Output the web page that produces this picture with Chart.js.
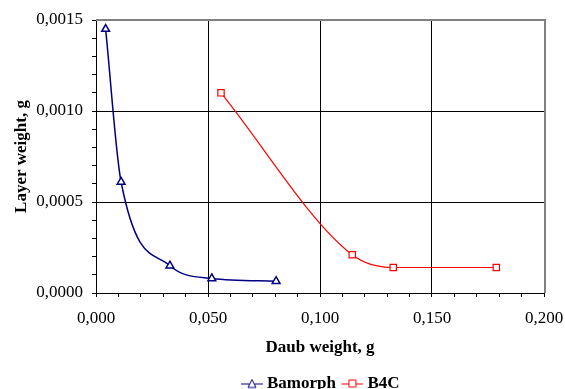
<!DOCTYPE html>
<html>
<head>
<meta charset="utf-8">
<script src="https://cdn.jsdelivr.net/npm/chart.js@4/dist/chart.umd.min.js"></script>
<style>
  html, body { margin: 0; padding: 0; background: #fff; }
  #wrap { width: 565px; height: 389px; }
</style>
</head>
<body>
<div id="wrap"><canvas id="layerChart" width="565" height="389"></canvas></div>
<script>
// values
const seriesNames = ['Bamorph', 'B4C'];
const bamorphX = [0.0043, 0.0112, 0.0330, 0.0517, 0.0804];
const bamorphY = [0.00145, 0.00061, 0.00015, 0.00008, 0.000065];
const b4cX = [0.0558, 0.1144, 0.1327, 0.1787];
const b4cY = [0.00110, 0.00021, 0.00014, 0.00014];

const FONT = 'Liberation Serif';
const NAVY = '#000080';
const RED = '#ff0000';

const toPoints = (xs, ys) => xs.map((x, i) => ({ x: x, y: ys[i] }));

// line+marker picture for the legend, drawn in the right 22px so the text sits close
function legendIcon(color, style) {
  const c = document.createElement('canvas');
  c.width = 27; c.height = 12;
  const g = c.getContext('2d');
  g.translate(5, 0);
  g.strokeStyle = color;
  g.lineWidth = 1;
  g.beginPath(); g.moveTo(0, 6.5); g.lineTo(22, 6.5); g.stroke();
  g.fillStyle = '#fff';
  g.beginPath();
  if (style === 'triangle') {
    g.moveTo(11, 2); g.lineTo(15, 10); g.lineTo(7, 10); g.closePath();
  } else {
    g.rect(7.5, 2.5, 7, 7);
  }
  g.fill(); g.stroke();
  return c;
}

const frameLines = {
  id: 'frameLines',
  afterDraw(chart) {
    const { ctx, chartArea: a } = chart;
    ctx.save();
    ctx.strokeStyle = '#808080';
    ctx.lineWidth = 2;
    ctx.beginPath();
    ctx.moveTo(a.left, a.top);
    ctx.lineTo(a.right + 1, a.top);
    ctx.lineTo(a.right + 1, a.bottom);
    ctx.stroke();
    ctx.restore();
  }
};

new Chart(document.getElementById('layerChart'), {
  type: 'scatter',
  data: {
    datasets: [{
      label: seriesNames[0],
      data: toPoints(bamorphX, bamorphY),
      showLine: true,
      borderColor: NAVY,
      borderWidth: 1.5,
      cubicInterpolationMode: 'monotone',
      pointStyle: 'triangle',
      pointRadius: 4.5,
      pointBorderWidth: 1.5,
      pointBackgroundColor: '#fff',
      pointBorderColor: NAVY
    }, {
      label: seriesNames[1],
      data: toPoints(b4cX, b4cY),
      showLine: true,
      borderColor: RED,
      borderWidth: 1.2,
      cubicInterpolationMode: 'monotone',
      pointStyle: 'rect',
      pointRadius: 4.5,
      pointBorderWidth: 1.2,
      pointBackgroundColor: '#fff',
      pointBorderColor: RED
    }]
  },
  options: {
    responsive: false,
    animation: false,
    layout: { padding: { top: 20, right: 21, left: 0, bottom: -13 } },
    scales: {
      x: {
        type: 'linear',
        min: 0,
        max: 0.2,
        afterFit: s => { s.height = 77; s.paddingLeft = 0; s.paddingRight = 0; },
        border: { color: '#000', width: 1 },
        grid: {
          color: c => (Math.round(c.tick.value * 1000) % 50 === 0 ? '#000' : 'rgba(0,0,0,0)'),
          tickColor: '#000',
          tickLength: 4,
          lineWidth: 1
        },
        ticks: {
          stepSize: 0.01,
          autoSkip: false,
          maxRotation: 0,
          padding: 11,
          color: '#000',
          font: { family: FONT, size: 17 },
          callback: v => (Math.round(v * 1000) % 50 === 0 ? v.toFixed(3).replace('.', ',') : '')
        },
        title: {
          display: true,
          text: 'Daub weight, g',
          color: '#000',
          font: { family: FONT, size: 17, weight: 'bold' },
          padding: { top: 4, bottom: 12 }
        }
      },
      y: {
        type: 'linear',
        min: 0,
        max: 0.0015,
        afterFit: s => { s.width = 96; },
        border: { color: '#000', width: 1 },
        grid: {
          color: c => (Math.round(c.tick.value * 10000) % 5 === 0 ? '#000' : 'rgba(0,0,0,0)'),
          tickColor: '#000',
          tickLength: 4,
          lineWidth: 1
        },
        ticks: {
          stepSize: 0.0001,
          autoSkip: false,
          padding: 9,
          color: '#000',
          font: { family: FONT, size: 17 },
          callback: v => (Math.round(v * 10000) % 5 === 0 ? v.toFixed(4).replace('.', ',') : '')
        },
        title: {
          display: true,
          text: 'Layer weight, g',
          color: '#000',
          font: { family: FONT, size: 17, weight: 'bold' },
          padding: { top: 11, bottom: 4 }
        }
      }
    },
    plugins: {
      legend: {
        position: 'bottom',
        fullSize: false,
        labels: {
          usePointStyle: true,
          pointStyleWidth: 18,
          padding: 5,
          color: '#000',
          font: { family: FONT, size: 17, weight: 'bold' },
          generateLabels: chart => chart.data.datasets.map((ds, i) => ({
            text: ds.label,
            pointStyle: legendIcon(ds.borderColor, ds.pointStyle),
            fillStyle: '#fff',
            strokeStyle: ds.borderColor,
            lineWidth: 0,
            fontColor: '#000',
            hidden: false,
            datasetIndex: i
          }))
        }
      },
      tooltip: { enabled: false }
    }
  },
  plugins: [frameLines]
});
</script>
</body>
</html>
